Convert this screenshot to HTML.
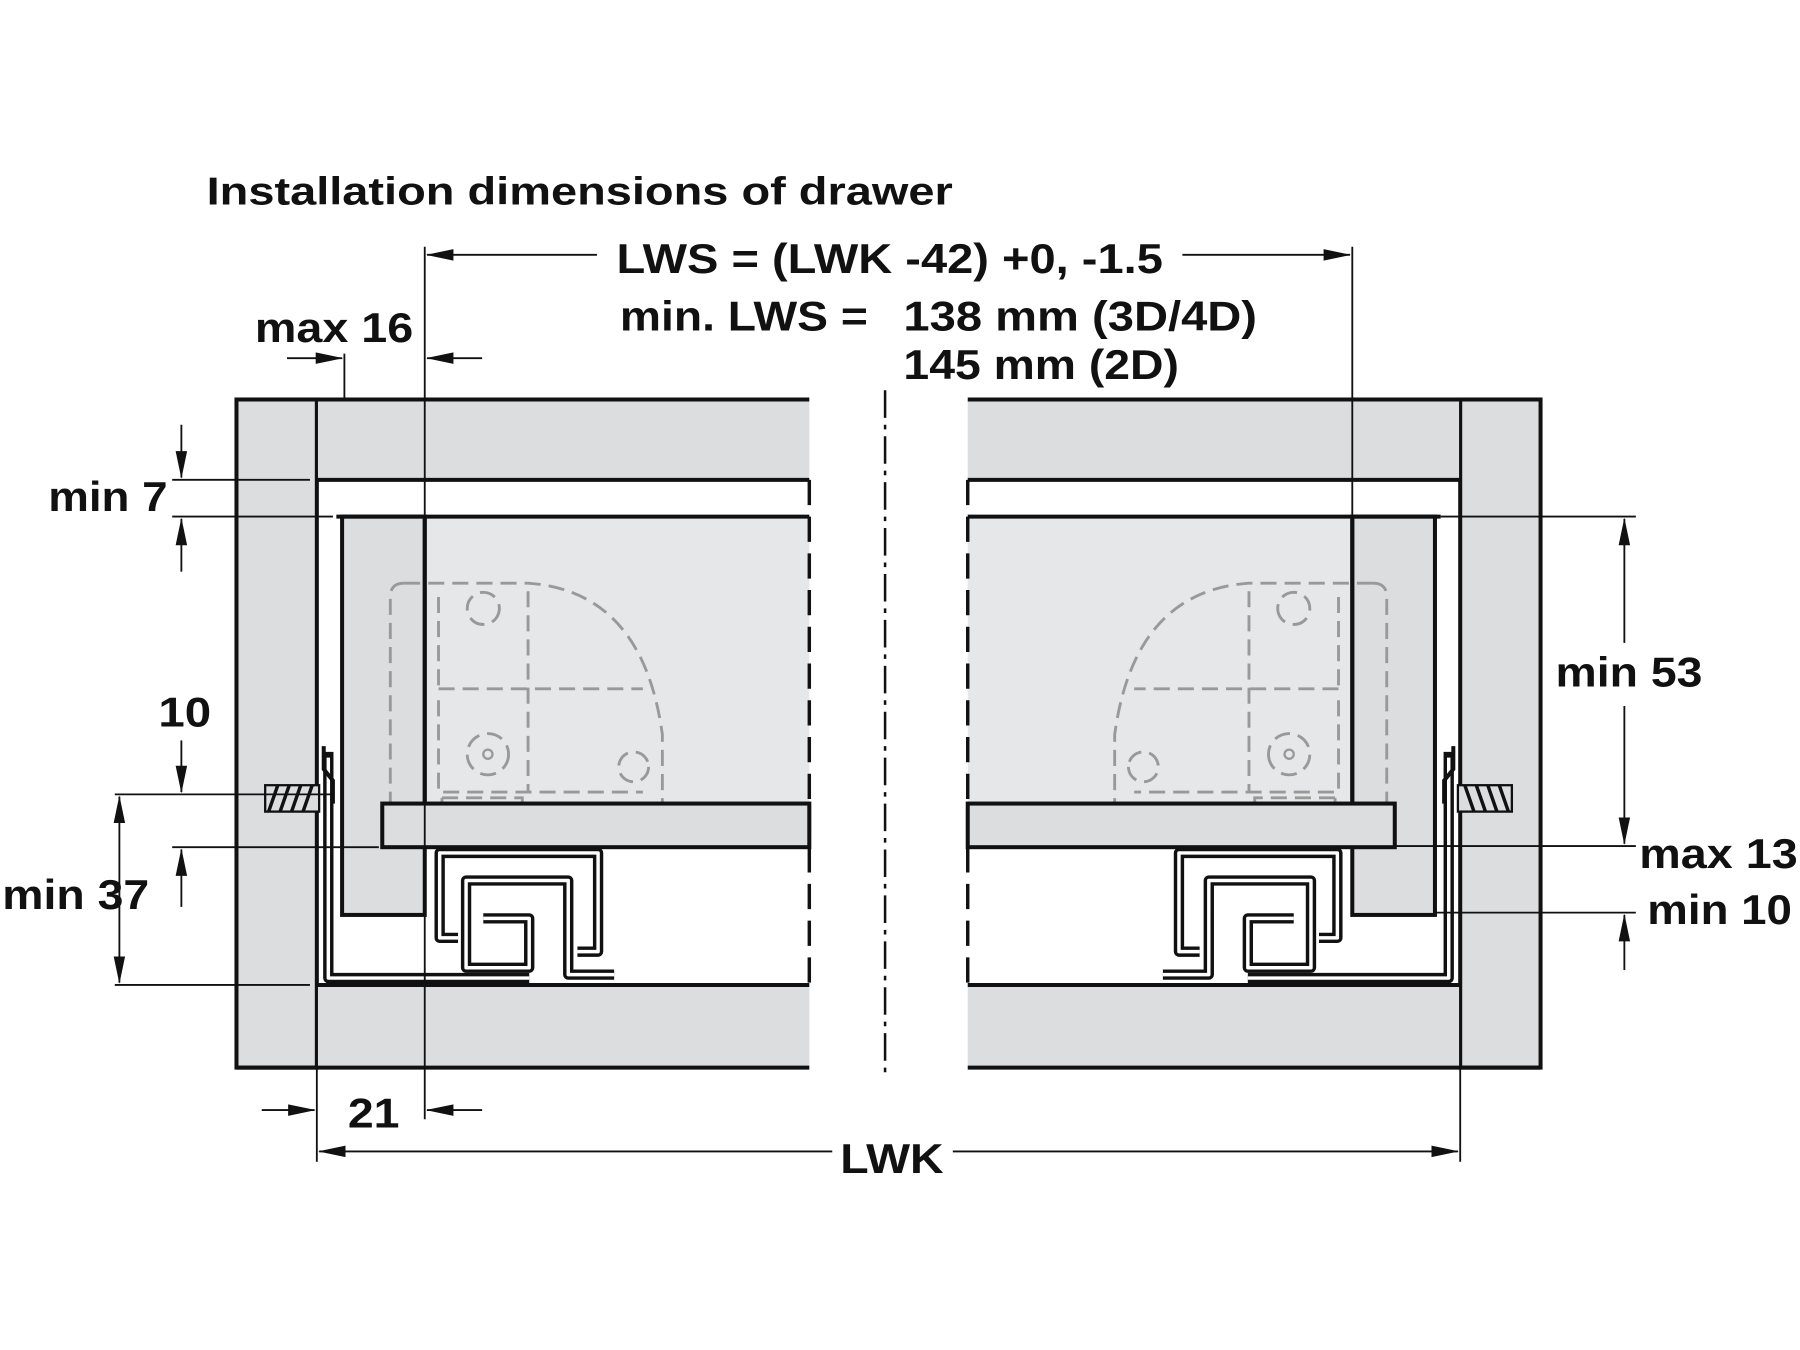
<!DOCTYPE html>
<html><head><meta charset="utf-8"><style>
html,body{margin:0;padding:0;background:#fff;width:1800px;height:1350px;overflow:hidden}
svg{display:block}
text{font-family:"Liberation Sans",Arial,sans-serif;font-weight:bold;fill:#111}
</style></head><body>
<svg width="1800" height="1350" viewBox="0 0 1568 1176" xmlns="http://www.w3.org/2000/svg">
<defs>
<marker id="a" markerWidth="24" markerHeight="12" refX="23" refY="6" orient="auto" markerUnits="userSpaceOnUse">
<path d="M0,1 L24,6 L0,11 Z" fill="#111"/></marker>
<g id="half">
 <rect x="206" y="348" width="70" height="582" fill="#dcdddf" stroke="#111" stroke-width="3.5"/>
 <rect x="277" y="349" width="428" height="68" fill="#dcdddf"/>
 <rect x="277" y="859" width="428" height="70" fill="#dcdddf"/>
 <path d="M276 348 H705 M276 418 H705 M276 858 H705 M206 930 H705" stroke="#111" stroke-width="3.5" fill="none"/>
 <rect x="370" y="450" width="335" height="250" fill="#e6e7e8"/>
 <rect x="298" y="450" width="72" height="347" fill="#dcdddf" stroke="#111" stroke-width="3.5"/>
 <path d="M293 450 H705" stroke="#111" stroke-width="3.5"/>
 <g fill="none" stroke="#999" stroke-width="2.5" stroke-dasharray="14,7">
  <path d="M352 508 H460 Q560 515 577 640 V735"/>
  <path d="M352 508 Q340 508 340 520 V735"/>
  <path d="M382 520 V600 M460 515 V690 M382 600 H560 M382 610 V690 H560"/>
  <circle cx="421" cy="530" r="14"/><circle cx="425" cy="657" r="18"/><circle cx="552" cy="668" r="13"/>
  <path d="M385 695 H455 V735 M385 695 V735"/>
 </g>
 <circle cx="425" cy="657" r="4" fill="none" stroke="#999" stroke-width="2"/>
 <rect x="333" y="700" width="372" height="38" fill="#dcdddf" stroke="#111" stroke-width="3.5"/>
 <path d="M370 450 V700" stroke="#111" stroke-width="3.5"/>
 <path d="M705 418 V858" stroke="#111" stroke-width="3" stroke-dasharray="22,10"/>
 <g fill="none" stroke-linejoin="round">
  <g stroke="#111" stroke-width="9">
   <path d="M286 655 L286 852 L461 852"/>
   <path d="M399 817 H383 V743 H521 V829 H503"/>
   <path d="M421 800 H461 V843 H406 V767 H495 V849 H535"/>
  </g>
  <g stroke="#fff" stroke-width="3">
   <path d="M286 660 L286 852 L461 852"/>
   <path d="M399 817 H383 V743 H521 V829 H503"/>
   <path d="M421 800 H461 V843 H406 V767 H495 V849 H535"/>
  </g>
 </g>
 <path d="M282 650 V670 L290 680 V700" stroke="#111" stroke-width="3.5" fill="none"/>
 <rect x="231" y="684" width="47" height="23" fill="#dcdddf" stroke="#111" stroke-width="2"/>
 <path d="M234 707 L242 684 M244 707 L252 684 M254 707 L262 684 M264 707 L272 684" stroke="#111" stroke-width="3"/>
</g>
</defs>

<use href="#half"/>
<use href="#half" transform="translate(1548,0) scale(-1,1)"/>
<path d="M771 340 V935" stroke="#111" stroke-width="2.2" stroke-dasharray="24,6,4,6"/>

<g stroke="#111" stroke-width="1.6" fill="none">
 <path d="M370 215 V975 M300 308 V348 M1178 215 V450 M276 930 V1012 M1272 930 V1012"/>
 <path d="M520 222 H372" marker-end="url(#a)"/>
 <path d="M1030 222 H1176" marker-end="url(#a)"/>
 <path d="M250 312 H298" marker-end="url(#a)"/>
 <path d="M420 312 H372" marker-end="url(#a)"/>
 <path d="M150 418 H270 M150 450 H290"/>
 <path d="M158 370 V416" marker-end="url(#a)"/>
 <path d="M158 498 V452" marker-end="url(#a)"/>
 <path d="M158 645 V690" marker-end="url(#a)"/>
 <path d="M100 692 H290 M150 738 H330 M100 858 H270"/>
 <path d="M158 790 V740" marker-end="url(#a)"/>
 <path d="M104 775 V694" marker-end="url(#a)"/>
 <path d="M104 775 V856" marker-end="url(#a)"/>
 <path d="M228 967 H274" marker-end="url(#a)"/>
 <path d="M420 967 H372" marker-end="url(#a)"/>
 <path d="M725 1003 H278" marker-end="url(#a)"/>
 <path d="M830 1003 H1270" marker-end="url(#a)"/>
 <path d="M1255 450 H1425 M1215 737 H1425 M1250 795 H1425"/>
 <path d="M1415 560 V452" marker-end="url(#a)"/>
 <path d="M1415 615 V735" marker-end="url(#a)"/>
 <path d="M1415 845 V797" marker-end="url(#a)"/>
</g>

<text x="180" y="178" font-size="34" textLength="650" lengthAdjust="spacingAndGlyphs">Installation dimensions of drawer</text>
<text x="537" y="238" font-size="36" textLength="476" lengthAdjust="spacingAndGlyphs">LWS = (LWK -42) +0, -1.5</text>
<text x="540" y="288" font-size="36" textLength="216" lengthAdjust="spacingAndGlyphs">min. LWS =</text>
<text x="787" y="288" font-size="36" textLength="308" lengthAdjust="spacingAndGlyphs">138 mm (3D/4D)</text>
<text x="787" y="330" font-size="36" textLength="240" lengthAdjust="spacingAndGlyphs">145 mm (2D)</text>
<text x="222" y="298" font-size="36" textLength="138" lengthAdjust="spacingAndGlyphs">max 16</text>
<text x="42" y="445" font-size="36" textLength="104" lengthAdjust="spacingAndGlyphs">min 7</text>
<text x="138" y="633" font-size="36" textLength="46" lengthAdjust="spacingAndGlyphs">10</text>
<text x="2" y="792" font-size="36" textLength="128" lengthAdjust="spacingAndGlyphs">min 37</text>
<text x="303" y="982" font-size="36" textLength="45" lengthAdjust="spacingAndGlyphs">21</text>
<text x="732" y="1022" font-size="36" textLength="90" lengthAdjust="spacingAndGlyphs">LWK</text>
<text x="1355" y="598" font-size="36" textLength="128" lengthAdjust="spacingAndGlyphs">min 53</text>
<text x="1428" y="756" font-size="36" textLength="138" lengthAdjust="spacingAndGlyphs">max 13</text>
<text x="1435" y="805" font-size="36" textLength="126" lengthAdjust="spacingAndGlyphs">min 10</text>
</svg>
</body></html>
